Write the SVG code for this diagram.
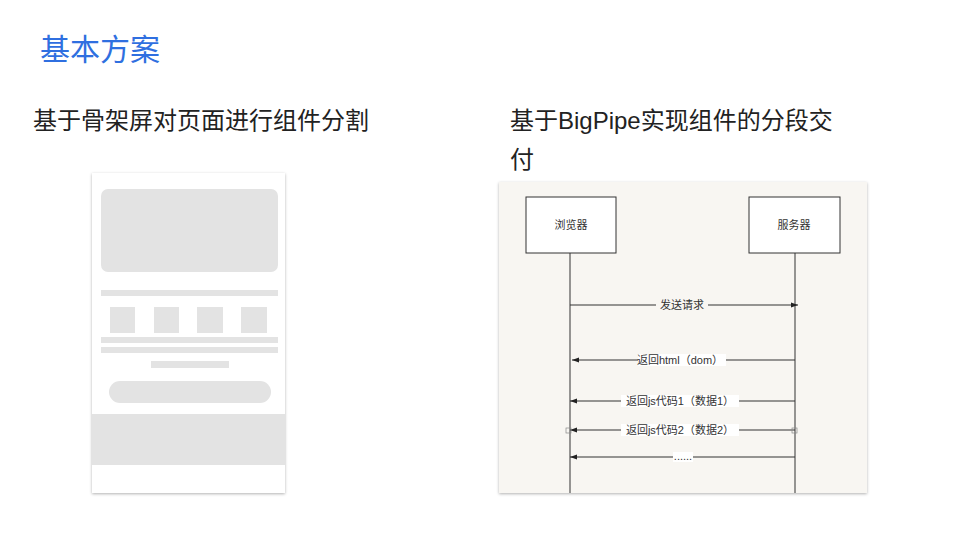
<svg xmlns="http://www.w3.org/2000/svg" width="960" height="540" viewBox="0 0 960 540">
<defs>
<style>
.t{font-family:"Liberation Sans","Noto Sans CJK SC",sans-serif;}
.sk{fill:#e3e3e3;}
.ln{stroke:#333;stroke-width:1;fill:none;}
.lb{font-size:11px;fill:#333;text-anchor:middle;}
</style>
<marker id="ah" markerWidth="8" markerHeight="8" refX="7" refY="4" orient="auto" markerUnits="userSpaceOnUse"><path d="M0,1.5 L7,4 L0,6.5 Z" fill="#222"/></marker>
<filter id="sh" x="-10%" y="-10%" width="120%" height="120%"><feDropShadow dx="0" dy="1" stdDeviation="1.5" flood-color="#000" flood-opacity="0.3"/></filter>
</defs>
<rect width="960" height="540" fill="#fff"/>
<text class="t" x="40" y="60" font-size="30" fill="#2f6fe0">基本方案</text>
<text class="t" x="33" y="129" font-size="24" fill="#222">基于骨架屏对页面进行组件分割</text>
<text class="t" x="510" y="129" font-size="24" fill="#222">基于BigPipe实现组件的分段交</text>
<text class="t" x="510" y="168" font-size="24" fill="#222">付</text>
<g id="skeleton">
<rect x="92" y="173" width="193" height="320" fill="#fff" filter="url(#sh)"/>
<rect class="sk" x="101" y="189" width="177" height="83" rx="7"/>
<rect class="sk" x="101" y="290" width="177" height="6"/>
<rect class="sk" x="110" y="307" width="25" height="26"/>
<rect class="sk" x="154" y="307" width="25" height="26"/>
<rect class="sk" x="197" y="307" width="26" height="26"/>
<rect class="sk" x="241" y="307" width="26" height="26"/>
<rect class="sk" x="101" y="337" width="177" height="6"/>
<rect class="sk" x="101" y="347" width="177" height="6"/>
<rect class="sk" x="151" y="361" width="78" height="7"/>
<rect class="sk" x="109" y="381" width="162" height="22" rx="11"/>
<rect class="sk" x="92" y="414" width="193" height="51"/>
</g>
<g id="seq-bg"><rect x="499" y="182" width="368" height="311" fill="#f8f6f2" filter="url(#sh)"/></g>
<g id="browser"><rect x="526" y="197" width="90" height="56" fill="#fff" stroke="#333"/><text class="t lb" x="571" y="229">浏览器</text></g>
<g id="server"><rect x="749" y="197" width="91" height="56" fill="#fff" stroke="#333"/><text class="t lb" x="794" y="229">服务器</text></g>
<g id="connectors">
<line class="ln" x1="570" y1="253" x2="570" y2="493"/>
<line class="ln" x1="795" y1="253" x2="795" y2="493"/>
<line class="ln" x1="570" y1="305" x2="798" y2="305" marker-end="url(#ah)"/>
<line class="ln" x1="795" y1="360" x2="572" y2="360" marker-end="url(#ah)"/>
<line class="ln" x1="795" y1="401" x2="570" y2="401" marker-end="url(#ah)"/>
<line class="ln" x1="795" y1="430" x2="570" y2="430" marker-end="url(#ah)"/>
<line class="ln" x1="795" y1="457" x2="570" y2="457" marker-end="url(#ah)"/>
<rect x="792" y="428" width="5" height="5" fill="none" stroke="#888" stroke-width="0.7"/>
<rect x="566" y="428" width="5" height="5" fill="none" stroke="#888" stroke-width="0.7"/>
<rect x="656" y="299" width="52" height="12" fill="#f8f6f2"/>
<text class="t lb" x="682" y="309">发送请求</text>
<rect x="638" y="354" width="88" height="12" fill="#fff"/>
<text class="t lb" x="680" y="364">返回html（dom）</text>
<rect x="621" y="395" width="118" height="12" fill="#fff"/>
<text class="t lb" x="680" y="405">返回js代码1（数据1）</text>
<rect x="621" y="424" width="118" height="12" fill="#fff"/>
<text class="t lb" x="680" y="434">返回js代码2（数据2）</text>
<rect x="673" y="452" width="20" height="10" fill="#fff"/>
<text class="t lb" x="683" y="460" font-size="8">......</text>
</g>
</svg>
